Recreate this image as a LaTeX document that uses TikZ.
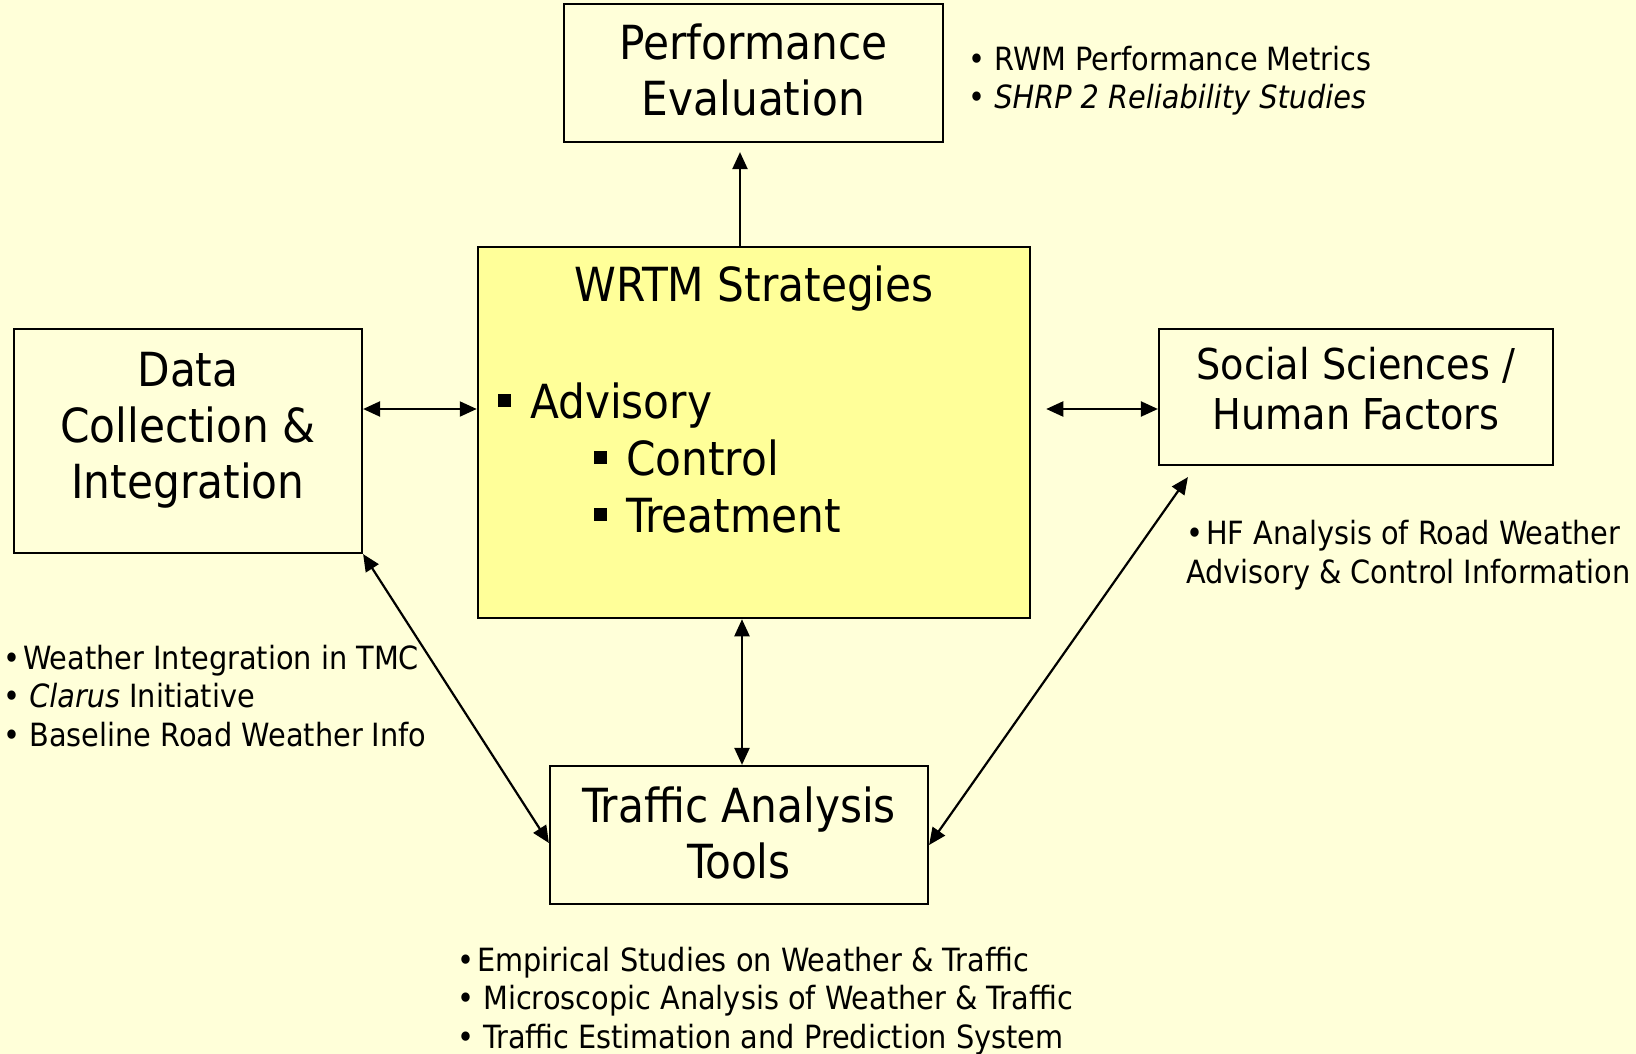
\documentclass[tikz,border=0pt]{standalone}
\usepackage{fontspec}
\setmainfont{DejaVu Sans Condensed}[ItalicFont={DejaVu Sans Condensed Oblique}]
\usetikzlibrary{arrows.meta,calc}
\definecolor{bgc}{HTML}{FFFFD9}
\definecolor{core}{HTML}{FFFF99}
\tikzset{
  box/.style={draw=black, line width=2.2pt, fill=bgc, inner sep=0pt},
  big/.style={font=\fontsize{47}{56}\selectfont, align=center, anchor=base, inner sep=0pt},
  mid/.style={font=\fontsize{42.5}{50}\selectfont, align=center, anchor=base, inner sep=0pt},
  small/.style={font=\fontsize{32}{38.5}\selectfont, align=left, anchor=base west, inner sep=0pt},
  item/.style={font=\fontsize{47}{56}\selectfont, anchor=base west, inner sep=0pt},
  dbl/.style={line width=2.2pt, {Triangle[length=17pt,width=15pt]}-{Triangle[length=17pt,width=15pt]}},
  one/.style={line width=2.2pt, -{Triangle[length=17pt,width=15pt]}},
}
\newcommand{\sqb}{\raisebox{11pt}{\rule{13pt}{13pt}}\hspace{19pt}}
\begin{document}
\begin{tikzpicture}[x=1pt,y=-1pt]
\fill[bgc] (0,0) rectangle (1636,1054);
\useasboundingbox (0,0) rectangle (1636,1054);
% boxes
\node[box, minimum width=379pt, minimum height=138pt] (perf) at (753.5,73) {};
\node[box, fill=core, line width=2.5pt, minimum width=552pt, minimum height=371pt] (wrtm) at (754,432.5) {};
\node[box, minimum width=348pt, minimum height=224pt] (data) at (188,441) {};
\node[box, minimum width=394pt, minimum height=136pt] (social) at (1356,397) {};
\node[box, minimum width=378pt, minimum height=138pt] (traffic) at (739,835) {};
% box texts (base anchor = baseline of last line)
\node[big] (perft) at (753.5,116) {Performance\\Evaluation};
\node[big] (wrtmt) at (754,301) {WRTM Strategies};
\node[item] (adv) at (498,418) {\sqb Advisory};
\node[item] (ctl) at (594,475) {\sqb Control};
\node[item] (trt) at (594,532) {\sqb Treatment};
\node[big] (datat) at (188,498) {Data\\Collection \&\\Integration};
\node[mid] (socialt) at (1356,429) {Social Sciences /\\Human Factors};
\node[big] (traffict) at (739,878) {Traffic Analysis\\Tools};
% lists
\node[small] (perfl) at (968,109) {• RWM Performance Metrics\\• \textit{SHRP 2 Reliability Studies}};
\node[small] (datal) at (3,746) {•\hspace{3pt}Weather Integration in TMC\\• \textit{Clarus} Initiative\\• Baseline Road Weather Info};
\node[small] (sociall) at (1186,583) {•\hspace{3pt}HF Analysis of Road Weather\\Advisory \& Control Information};
\node[small] (trafficl) at (457,1048) {•\hspace{3pt}Empirical Studies on Weather \& Traffic\\• Microscopic Analysis of Weather \& Traffic\\• Traffic Estimation and Prediction System};
% connectors
\coordinate (p1) at ($(wrtm.north)+(-14,0)$);
\draw[one] (p1) -- ($(p1 |- perf.south)+(0,9)$);
\coordinate (a1) at ($(data.east)+(0,-32)$);
\draw[dbl] (a1) -- (a1 -| wrtm.west);
\coordinate (s1) at ($(social.west)+(0,12)$);
\draw[dbl] ($(s1 -| wrtm.east)+(15,0)$) -- (s1);
\coordinate (t1) at ($(traffic.north)+(3,0)$);
\draw[dbl] (t1 |- wrtm.south) -- (t1);
\draw[dbl] (data.south east) -- ($(traffic.west)+(0,8)$);
\draw[dbl] ($(social.south west)+(30,11)$) -- ($(traffic.east)+(0,10)$);
\end{tikzpicture}
\end{document}
